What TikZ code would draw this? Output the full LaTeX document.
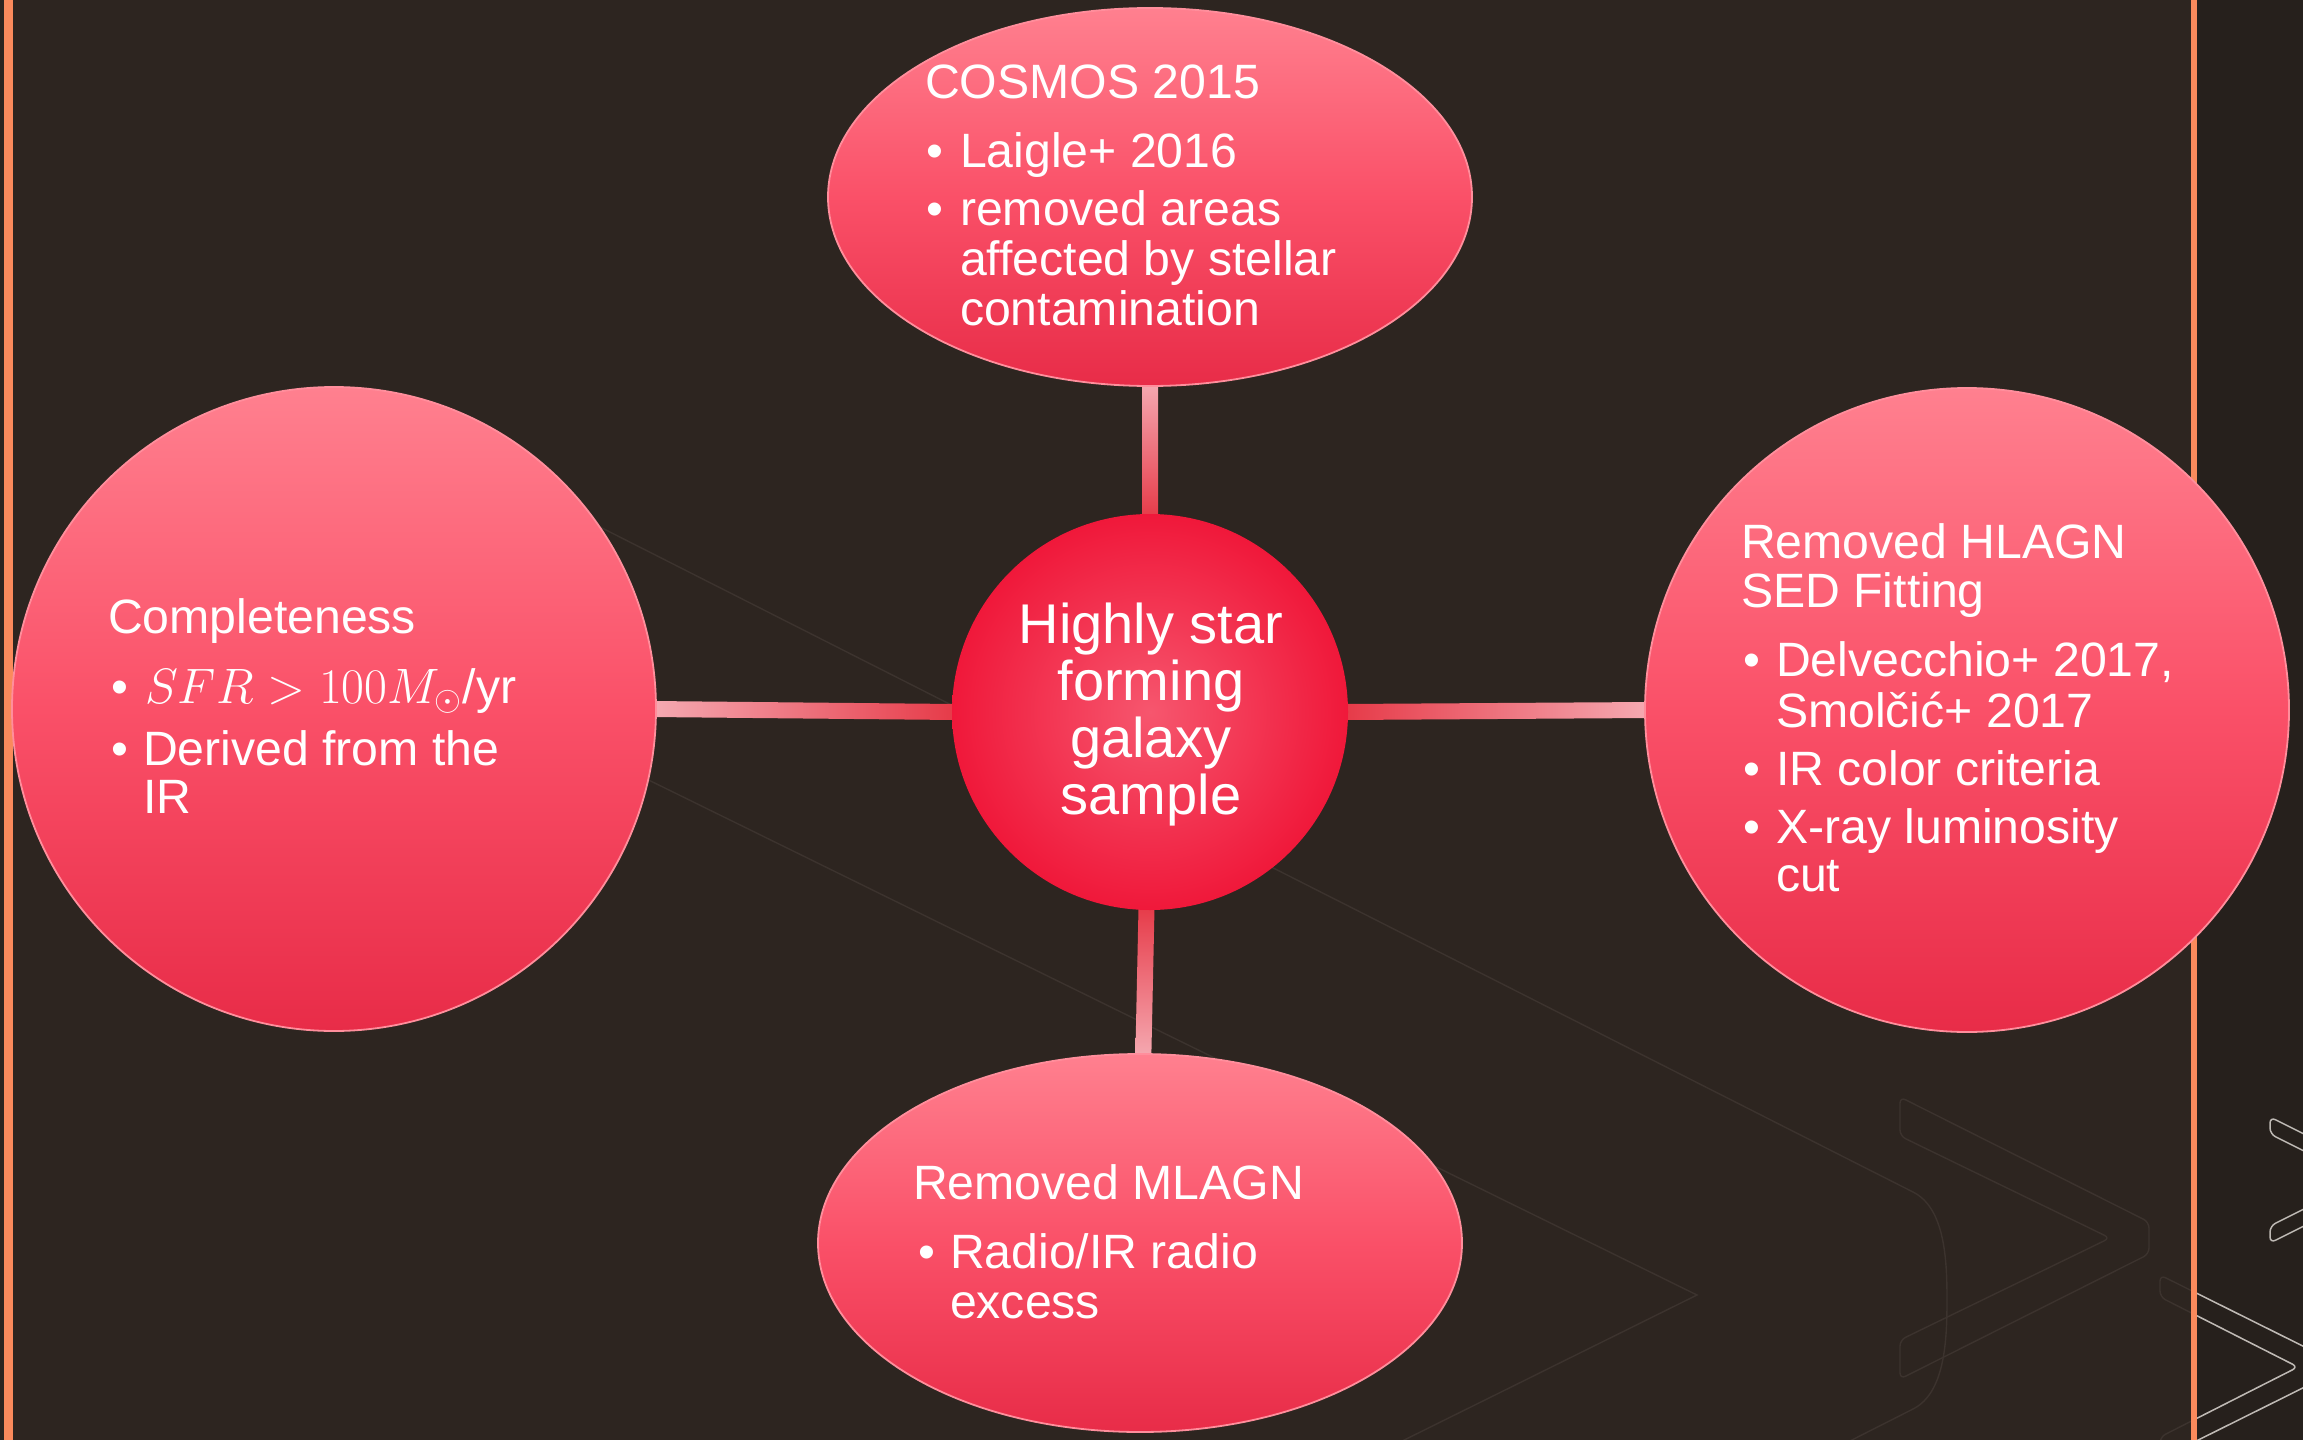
\documentclass[tikz,border=0pt]{standalone}
\usepackage[no-math]{fontspec}
\setmainfont{Liberation Sans}
\usetikzlibrary{shapes.geometric,calc}

\definecolor{bgmain}{RGB}{45,37,32}
\definecolor{bgdark}{RGB}{38,32,28}
\definecolor{orangeline}{RGB}{250,138,92}
\definecolor{faint}{RGB}{60,51,46}
\definecolor{bright}{RGB}{190,185,180}
\definecolor{elltop}{RGB}{255,128,143}
\definecolor{ellmid}{RGB}{250,80,104}
\definecolor{ellbot}{RGB}{232,44,72}
\definecolor{ellrim}{RGB}{255,142,156}
\definecolor{hubin}{RGB}{246,86,110}
\definecolor{hubout}{RGB}{240,24,58}
\definecolor{barpale}{RGB}{245,170,178}
\definecolor{barred}{RGB}{230,58,72}

\pgfdeclarelayer{backdrop}
\pgfdeclarelayer{links}
\pgfsetlayers{backdrop,links,main}

\tikzset{
  bubble/.style={ellipse, draw=ellrim, line width=0.9pt,
    top color=elltop, bottom color=ellbot, middle color=ellmid,
    inner sep=0pt, outer sep=0pt},
  hubstyle/.style={circle, shading=radial, inner color=hubin, outer color=hubout,
    inner sep=0pt, outer sep=0pt},
  lbl/.style={text=white, font=\fontsize{24.1}{28}\selectfont,
    anchor=base west, inner sep=0pt, outer sep=0pt},
  hublbl/.style={text=white, font=\fontsize{28}{28.5}\selectfont,
    align=center, inner sep=0pt, outer sep=0pt},
  faintline/.style={draw=faint, line width=0.7pt},
  brightline/.style={draw=bright, line width=0.75pt},
}

\begin{document}
\begin{tikzpicture}[x=0.5pt,y=-0.5pt]
\useasboundingbox (0,0) rectangle (2303,1440);

% ---------- shapes ----------
\node[bubble, minimum width=322pt, minimum height=189pt] (top) at (1150,197) {};
\node[bubble, minimum width=322pt, minimum height=322pt] (left) at (334,709) {};
\node[bubble, minimum width=322pt, minimum height=322pt] (right) at (1967,710) {};
\node[bubble, minimum width=322pt, minimum height=189pt] (bottom) at (1140,1243) {};
\node[hubstyle, minimum size=198pt] (hub) at (1150,712) {};

% ---------- background ----------
\begin{pgfonlayer}{backdrop}
\begin{scope}
\clip (0,0) rectangle (2303,1440);
\fill[bgmain] (0,0) rectangle (2303,1440);
\fill[bgdark] (2194,0) rectangle (2303,1440);
% big rounded chevron
\draw[faintline] (450,451) -- (1913,1192)
  .. controls (1945,1208) and (1947,1260) .. (1947,1300)
  .. controls (1947,1340) and (1945,1393) .. (1913,1409) -- (1840,1446);
% sharp chevron
\draw[faintline] (500,707) -- (1697,1295) -- (1390,1447);
% outlined chevrons
\draw[faintline, rounded corners=3pt] (1900,1097) -- (2149,1222) -- (2149,1254)
  -- (1900,1379) -- (1900,1340) -- (2110,1238) -- (1900,1136) -- cycle;
\draw[faintline, rounded corners=3pt] (2160,1275) -- (2345,1367) -- (2160,1459)
  -- (2160,1437) -- (2298,1367) -- (2160,1297) -- cycle;
\begin{scope}
\clip (2197,0) rectangle (2303,1440);
\draw[brightline, rounded corners=3pt] (2160,1275) -- (2345,1367) -- (2160,1459)
  -- (2160,1437) -- (2298,1367) -- (2160,1297) -- cycle;
\draw[brightline, rounded corners=3pt] (2270,1117) -- (2396,1180) -- (2270,1243)
  -- (2270,1226) -- (2362,1180) -- (2270,1134) -- cycle;
\end{scope}
\fill[orangeline] (4,0) rectangle (13,1440);
\fill[orangeline] (2191,0) rectangle (2197,1440);
\end{scope}
\end{pgfonlayer}

% ---------- connectors ----------
\begin{pgfonlayer}{links}
\shade[left color=barpale, right color=barred]
  ($(left.east)+(-4,-8)$) -- ($(hub.west)+(4,-8)$) -- ($(hub.west)+(4,8)$) -- ($(left.east)+(-4,8)$) -- cycle;
\shade[left color=barred, right color=barpale]
  ($(hub.east)+(-4,-8)$) -- ($(right.west)+(4,-8)$) -- ($(right.west)+(4,8)$) -- ($(hub.east)+(-4,8)$) -- cycle;
\shade[top color=barpale, bottom color=barred]
  ($(top.south)+(-8,-4)$) -- ($(top.south)+(8,-4)$) -- ($(hub.north)+(8,4)$) -- ($(hub.north)+(-8,4)$) -- cycle;
\shade[top color=barred, bottom color=barpale]
  ($(hub.-91)+(-8,-4)$) -- ($(hub.-91)+(8,-4)$) -- ($(bottom.89)+(8,4)$) -- ($(bottom.89)+(-8,4)$) -- cycle;
\end{pgfonlayer}

% ---------- centre text ----------
\node[hublbl] (hubtext) at (1151,715) {Highly star\\forming\\galaxy\\sample};

% ---------- top block ----------
\node[lbl] (ta) at (925,98) {COSMOS 2015};
\node[lbl] (tb1) at (926,167) {•};
\node[lbl] (tb) at (960,167) {Laigle+ 2016};
\node[lbl] (tc1) at (926,225) {•};
\node[lbl] (tc) at (960,225) {removed areas};
\node[lbl] (td) at (960,275) {affected by stellar};
\node[lbl] (te) at (960,325) {contamination};

% ---------- left block ----------
\node[lbl] (la) at (108,633) {Completeness};
\node[lbl] (lb1) at (111,703) {•};
\node[lbl] (lb) at (145,703) {$SFR > 100M_{\odot}$/yr};
\node[lbl] (lc1) at (111,765) {•};
\node[lbl] (lc) at (143,765) {Derived from the};
\node[lbl] (ld) at (143,813) {IR};

% ---------- right block ----------
\node[lbl] (ra) at (1741,558) {Removed HLAGN};
\node[lbl] (rb) at (1741,607) {SED Fitting};
\node[lbl] (rc1) at (1743,676) {•};
\node[lbl] (rc) at (1776,676) {Delvecchio+ 2017,};
\node[lbl] (rd) at (1776,727) {Smolčić+ 2017};
\node[lbl] (re1) at (1743,785) {•};
\node[lbl] (re) at (1776,785) {IR color criteria};
\node[lbl] (rf1) at (1743,843) {•};
\node[lbl] (rf) at (1776,843) {X-ray luminosity};
\node[lbl] (rg) at (1776,891) {cut};

% ---------- bottom block ----------
\node[lbl] (ba) at (913,1199) {Removed MLAGN};
\node[lbl] (bb1) at (918,1268) {•};
\node[lbl] (bb) at (950,1268) {Radio/IR radio};
\node[lbl] (bc) at (950,1318) {excess};
\end{tikzpicture}
\end{document}
